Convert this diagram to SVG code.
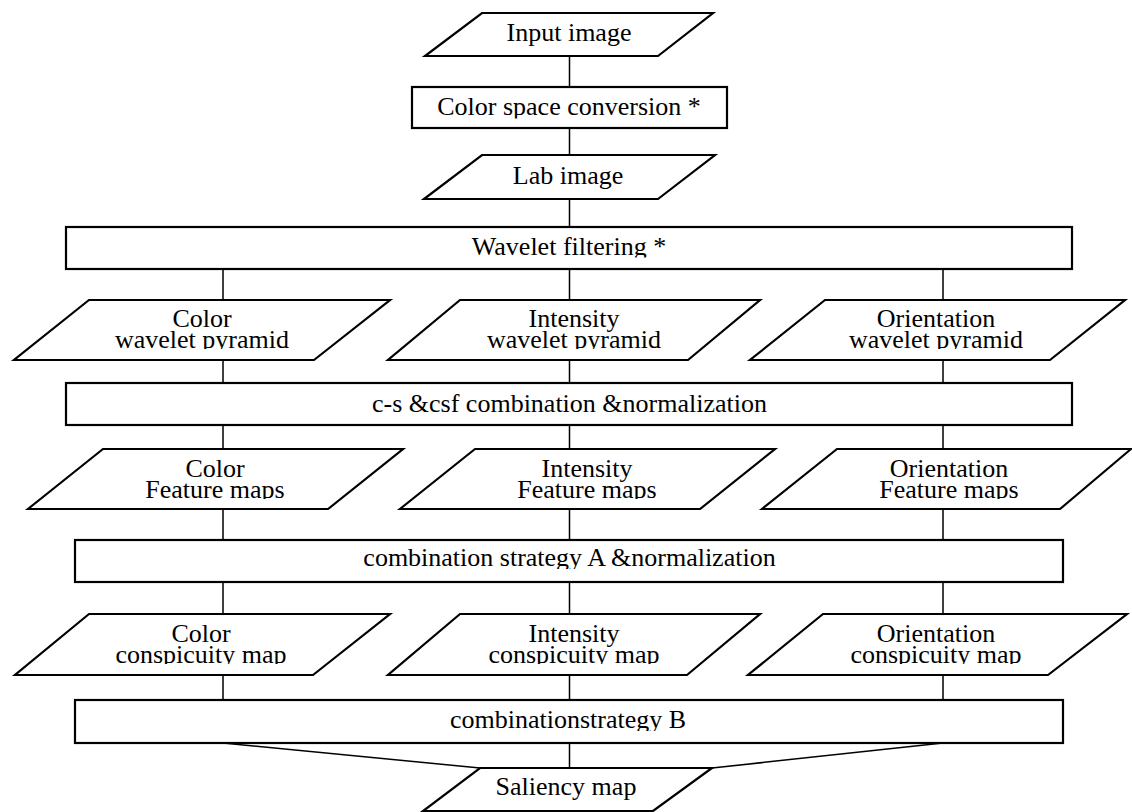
<svg xmlns="http://www.w3.org/2000/svg" width="1132" height="812" viewBox="0 0 1132 812">
<style>
.s{fill:#fff;stroke:#000;stroke-width:2.2}
.c{fill:none;stroke:#000;stroke-width:1.5}
text{font-family:"Liberation Serif","Times New Roman",serif;font-size:26px;fill:#000;text-anchor:middle}
</style>
<defs>
<clipPath id="k1"><rect x="0" y="0" width="1132" height="118.5"/></clipPath>
<clipPath id="k2"><rect x="0" y="0" width="1132" height="257.5"/></clipPath>
<clipPath id="k3"><rect x="0" y="0" width="1132" height="349"/></clipPath>
<clipPath id="k4"><rect x="0" y="0" width="1132" height="499"/></clipPath>
<clipPath id="k5"><rect x="0" y="0" width="1132" height="569"/></clipPath>
<clipPath id="k6"><rect x="0" y="0" width="1132" height="664"/></clipPath>
<clipPath id="k7"><rect x="0" y="0" width="1132" height="731"/></clipPath>
</defs>
<rect width="1132" height="812" fill="#fff"/>
<g id="connectors">
<path class="c" d="M569.5 56V87M569.5 128V155M569.5 199V227"/>
<path class="c" d="M223 269V300M569.5 269V300M943 269V300"/>
<path class="c" d="M223 360V383M569.5 360V383M943 360V383"/>
<path class="c" d="M223 425V449M569.5 425V449M943 425V449"/>
<path class="c" d="M223 509V540M569.5 509V540M943 509V540"/>
<path class="c" d="M223 582V614M569.5 582V614M943 582V614"/>
<path class="c" d="M223 675V700M569.5 675V700M943 675V700"/>
<path class="c" d="M223 743L480 768M569.5 743V768M943 743L712 768"/>
</g>
<g id="input"><polygon class="s" points="482,13 713,13 658,56 425,56"/><text x="569" y="41">Input image</text></g>
<g id="colorspace"><rect class="s" x="412" y="87" width="315" height="41"/><text x="569" y="115" clip-path="url(#k1)">Color space conversion *</text></g>
<g id="lab"><polygon class="s" points="482,155 715,155 658,199 424,199"/><text x="568" y="184">Lab image</text></g>
<g id="wavelet"><rect class="s" x="66" y="227" width="1006" height="42"/><text x="569" y="255" clip-path="url(#k2)">Wavelet filtering *</text></g>
<g id="colorpyr"><polygon class="s" points="89,300 390,300 314,360 14,360"/><text x="202" y="327" clip-path="url(#k3)">Color<tspan x="202" y="348">wavelet pyramid</tspan></text></g>
<g id="intpyr"><polygon class="s" points="460,300 760,300 688,360 388,360"/><text x="574" y="327" clip-path="url(#k3)">Intensity<tspan x="574" y="348">wavelet pyramid</tspan></text></g>
<g id="oripyr"><polygon class="s" points="825,300 1125,300 1050,360 750,360"/><text x="936" y="327" clip-path="url(#k3)">Orientation<tspan x="936" y="348">wavelet pyramid</tspan></text></g>
<g id="csnorm"><rect class="s" x="66" y="383" width="1006" height="42"/><text x="569.5" y="412">c-s &amp;csf combination &amp;normalization</text></g>
<g id="colorfeat"><polygon class="s" points="103,449 403,449 328,509 28,509"/><text x="215" y="477" clip-path="url(#k4)">Color<tspan x="215" y="498">Feature maps</tspan></text></g>
<g id="intfeat"><polygon class="s" points="475,449 775,449 700,509 400,509"/><text x="587" y="477" clip-path="url(#k4)">Intensity<tspan x="587" y="498">Feature maps</tspan></text></g>
<g id="orifeat"><polygon class="s" points="837,449 1131,449 1060,509 762,509"/><text x="949" y="477" clip-path="url(#k4)">Orientation<tspan x="949" y="498">Feature maps</tspan></text></g>
<g id="combA"><rect class="s" x="75" y="540" width="988" height="42"/><text x="569.5" y="566" clip-path="url(#k5)">combination strategy A &amp;normalization</text></g>
<g id="colorcons"><polygon class="s" points="89,614 390,614 313,675 15,675"/><text x="201" y="642" clip-path="url(#k6)">Color<tspan x="201" y="663">conspicuity map</tspan></text></g>
<g id="intcons"><polygon class="s" points="460,614 760,614 687,675 388,675"/><text x="574" y="642" clip-path="url(#k6)">Intensity<tspan x="574" y="663">conspicuity map</tspan></text></g>
<g id="oricons"><polygon class="s" points="823,614 1127,614 1048,675 748,675"/><text x="936" y="642" clip-path="url(#k6)">Orientation<tspan x="936" y="663">conspicuity map</tspan></text></g>
<g id="combB"><rect class="s" x="75" y="700" width="988" height="43"/><text x="568" y="728" clip-path="url(#k7)">combinationstrategy B</text></g>
<g id="saliency"><polygon class="s" points="480,768 712,768 653,811 423,811"/><text x="566" y="795">Saliency map</text></g>
</svg>
